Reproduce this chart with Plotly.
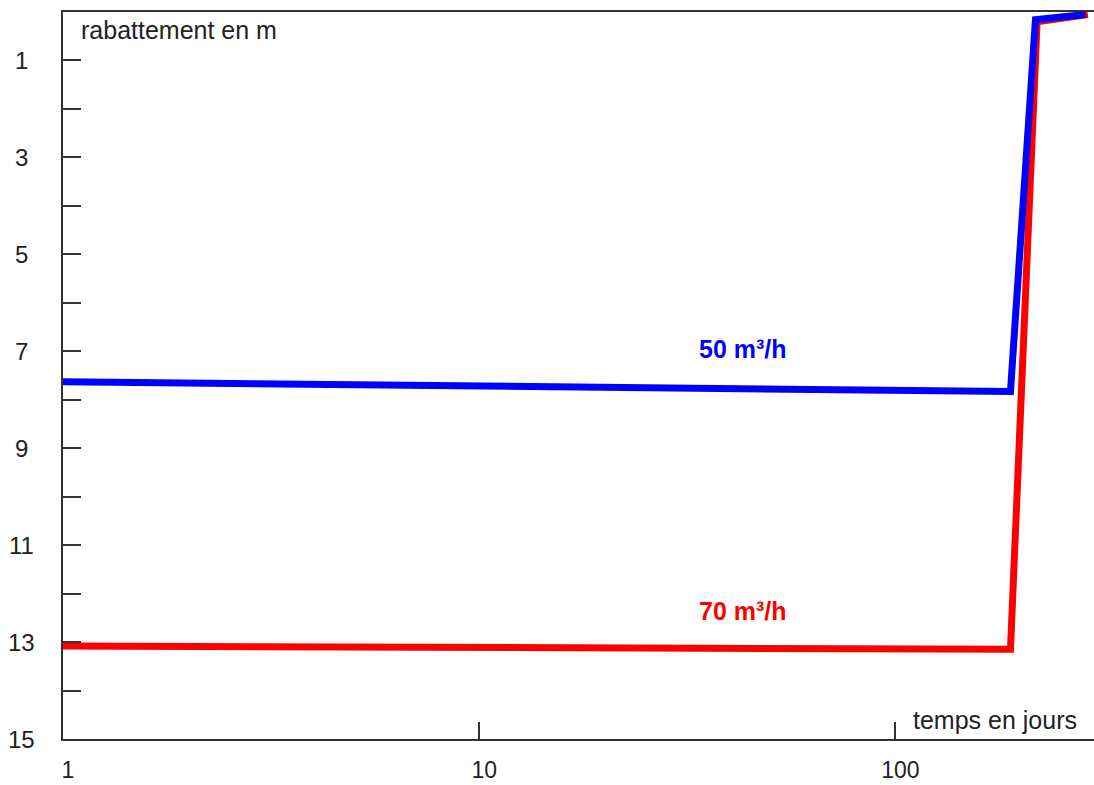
import plotly.graph_objects as go
import math

# data
days_50 = [1, 189, 217, 286]
drawdown_50 = [7.63, 7.83, 0.16, 0.05]
days_70 = [1, 189, 219, 290]
drawdown_70 = [13.08, 13.15, 0.2, 0.05]
y_ticks = list(range(0, 16))
y_tick_labels = [1, 3, 5, 7, 9, 11, 13, 15]
x_ticks = [1, 10, 100]
x_tick_labels = ["1", "10", "100"]

FONT = "Liberation Sans"
AX = "#333333"
TXT = "#222222"

fig = go.Figure()
fig.add_trace(go.Scatter(x=days_70, y=drawdown_70, mode="lines",
                         line=dict(color="#ff0000", width=7), showlegend=False))
fig.add_trace(go.Scatter(x=days_50, y=drawdown_50, mode="lines",
                         line=dict(color="#0000ff", width=7), showlegend=False))

fig.update_layout(
    width=1094, height=785,
    margin=dict(l=63, r=0, t=12, b=46),
    paper_bgcolor="white", plot_bgcolor="white",
    font=dict(family=FONT, size=23, color=TXT),
    xaxis=dict(type="log", range=[0, math.log10(300)], tickvals=x_ticks,
               ticktext=x_tick_labels, ticks="inside", ticklen=17, tickwidth=2,
               tickcolor=AX, showline=True, linecolor=AX, linewidth=2,
               mirror=True, showgrid=False, zeroline=False, automargin=False,
               ticklabelstandoff=9, ticklabelshift=5,
               tickfont=dict(size=23, family=FONT, color=TXT)),
    yaxis=dict(range=[15, 0], tickvals=y_ticks, showticklabels=False,
               ticks="inside", ticklen=18, tickwidth=2, tickcolor=AX,
               showline=True, linecolor=AX, linewidth=2, showgrid=False,
               zeroline=False, automargin=False),
)

# y tick labels (centered, odd values only)
for v in y_tick_labels:
    fig.add_annotation(x=-0.04, xref="paper", y=v, yref="y", text=str(v),
                       showarrow=False, xanchor="center", yanchor="middle",
                       font=dict(size=24, family=FONT, color=TXT))

fig.add_annotation(x=0.0155, xref="paper", y=0.38, yref="y",
                   text="rabattement en m", showarrow=False,
                   xanchor="left", yanchor="middle",
                   font=dict(size=25, family=FONT, color=TXT))
fig.add_annotation(x=0.985, xref="paper", y=14.6, yref="y",
                   text="temps en jours", showarrow=False,
                   xanchor="right", yanchor="middle",
                   font=dict(size=25, family=FONT, color=TXT))
fig.add_annotation(x=math.log10(43), xref="x", y=6.95, yref="y",
                   text="<b>50 m³/h</b>", showarrow=False,
                   xanchor="center", yanchor="middle",
                   font=dict(size=25, family=FONT, color="#0000ff"))
fig.add_annotation(x=math.log10(43), xref="x", y=12.35, yref="y",
                   text="<b>70 m³/h</b>", showarrow=False,
                   xanchor="center", yanchor="middle",
                   font=dict(size=25, family=FONT, color="#ff0000"))

fig.write_html("out.html")
